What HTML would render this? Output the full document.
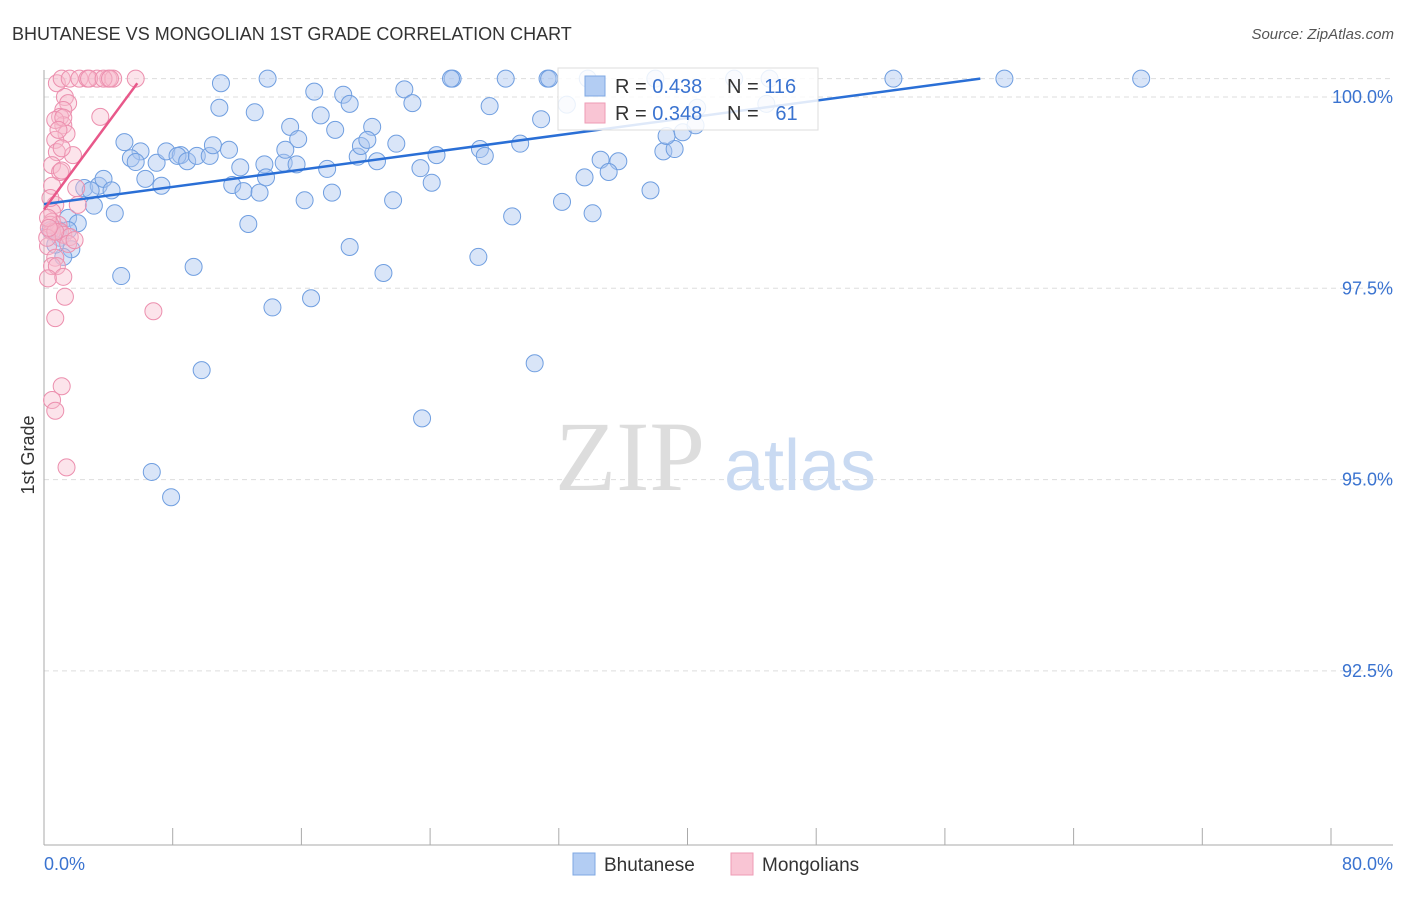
<!DOCTYPE html>
<html><head><meta charset="utf-8">
<style>
body{margin:0;background:#fff;font-family:"Liberation Sans",sans-serif;}
svg text{font-family:"Liberation Sans",sans-serif;}
</style></head>
<body>
<svg id="chart" width="1406" height="892">
<text x="12" y="40" font-size="18" fill="#333">BHUTANESE VS MONGOLIAN 1ST GRADE CORRELATION CHART</text>
<text x="1394" y="39" font-size="15" fill="#555" text-anchor="end" font-style="italic">Source: ZipAtlas.com</text>
<g id="grid"></g>
<text x="630" y="490" font-size="100" fill="#ddd" text-anchor="middle" font-family="Liberation Serif" style="font-family:'Liberation Serif',serif">ZIP</text>
<text x="800" y="490" font-size="72" fill="#c9daf2" text-anchor="middle">atlas</text>
<g id="pts"></g>
<g id="lines"></g>
<text transform="translate(34,455) rotate(-90)" font-size="18" fill="#333" text-anchor="middle">1st Grade</text>
<g>
<rect x="558" y="68" width="260" height="62" fill="#fff" fill-opacity="0.85" stroke="#ddd"/>
<rect x="585" y="76" width="20" height="20" fill="#b3cdf3" stroke="#7fa8e3"/>
<rect x="585" y="103" width="20" height="20" fill="#f9c5d4" stroke="#ee9bb5"/>
<text x="615" y="93" font-size="20" fill="#333">R = <tspan fill="#3a73d0">0.438</tspan></text>
<text x="727" y="93" font-size="20" fill="#333">N = <tspan fill="#3a73d0">116</tspan></text>
<text x="615" y="120" font-size="20" fill="#333">R = <tspan fill="#3a73d0">0.348</tspan></text>
<text x="727" y="120" font-size="20" fill="#333">N = <tspan fill="#3a73d0">&#160; 61</tspan></text>
</g>
<g>
<rect x="573" y="853" width="22" height="22" fill="#b3cdf3" stroke="#7fa8e3"/>
<text x="604" y="871" font-size="19" fill="#333">Bhutanese</text>
<rect x="731" y="853" width="22" height="22" fill="#f9c5d4" stroke="#ee9bb5"/>
<text x="762" y="871" font-size="19" fill="#333">Mongolians</text>
</g>
</svg>
<script>
const xTicks=[0,8,16,24,32,40,48,56,64,72,80];
const yTicks=[100,97.5,95,92.5];
const yTickLabels=["100.0%","97.5%","95.0%","92.5%"];
const xLabels=["0.0%","80.0%"];
const blueX=[11.0,13.9,25.4,28.7,31.3,33.8,38.0,42.9,45.1,52.8,59.7,68.2,25.3,31.4,10.9,13.1,16.8,18.6,19.0,22.4,22.9,27.7,30.9,32.5,17.2,15.3,18.1,20.4,21.9,15.8,5.0,6.0,5.4,5.7,7.0,7.6,8.5,8.3,8.9,9.5,10.3,10.5,11.5,12.2,13.7,14.9,15.0,15.7,17.6,19.5,19.7,20.1,20.7,24.4,23.4,27.1,27.4,29.6,34.6,35.7,38.5,39.2,38.7,39.7,40.5,40.6,44.9,33.6,35.1,6.3,7.3,11.7,12.4,13.4,13.8,16.2,17.9,21.7,24.1,37.7,32.2,34.1,29.1,12.7,1.5,2.1,3.1,4.4,2.5,3.4,3.7,4.2,2.9,0.9,1.0,1.5,1.7,1.2,4.8,9.3,19.0,21.1,27.0,14.2,16.6,9.8,30.5,23.5,6.7,7.9,0.4,0.7];
const blueY=[100.18,100.24,100.24,100.24,100.24,100.24,100.24,100.24,100.24,100.24,100.24,100.24,100.24,100.24,99.86,99.80,100.07,100.03,99.91,100.10,99.92,99.88,99.71,99.90,99.76,99.61,99.57,99.61,99.39,99.45,99.41,99.29,99.20,99.15,99.14,99.29,99.24,99.23,99.16,99.23,99.23,99.37,99.31,99.08,99.12,99.14,99.31,99.12,99.06,99.22,99.36,99.44,99.16,99.24,99.07,99.32,99.23,99.39,99.18,99.16,99.29,99.32,99.49,99.54,99.63,99.86,99.91,98.95,99.02,98.93,98.84,98.85,98.77,98.75,98.95,98.65,98.75,98.65,98.88,98.78,98.63,98.48,98.44,98.34,98.42,98.35,98.58,98.48,98.81,98.84,98.93,98.78,98.78,98.26,98.16,98.26,98.01,97.91,97.66,97.78,98.04,97.70,97.91,97.25,97.37,96.43,96.52,95.80,95.10,94.77,98.26,98.07];
const pinkX=[0.8,1.1,1.6,2.2,2.7,3.3,4.0,4.3,5.7,1.3,1.5,1.2,1.0,3.5,1.2,1.4,0.7,0.8,1.8,1.1,0.5,1.0,0.5,2.0,2.1,0.7,0.5,0.5,0.9,1.0,0.5,1.2,1.6,1.5,1.9,0.25,0.7,0.5,0.8,0.25,1.2,1.3,0.7,6.8,1.1,0.5,0.7,1.4,0.4,0.2,0.7,2.8,3.7,4.1,0.7,1.2,0.25,0.9,1.1,0.4,0.3];
const pinkY=[100.18,100.24,100.24,100.24,100.24,100.24,100.24,100.24,100.24,100.0,99.92,99.83,99.74,99.74,99.63,99.52,99.44,99.28,99.24,99.33,99.11,99.02,98.84,98.81,98.59,98.59,98.50,98.37,98.33,98.24,98.24,98.20,98.17,98.08,98.13,98.05,97.90,97.79,97.79,97.63,97.65,97.39,97.11,97.20,96.22,96.04,95.90,95.16,98.33,98.16,98.24,100.24,100.24,100.24,99.70,99.73,98.42,99.57,99.04,98.68,98.29];
const blueTrend=[[0,98.6],[58.2,100.24]];
const pinkTrend=[[0,98.53],[5.8,100.18]];
const NS="http://www.w3.org/2000/svg";
const X=v=>44+v*16.0875;
const Y=v=>97+(100-v)*76.52;
function mk(tag,attrs,parent){const e=document.createElementNS(NS,tag);for(const k in attrs)e.setAttribute(k,attrs[k]);parent.appendChild(e);return e;}
const grid=document.getElementById('grid');
const gy=[100.24,...yTicks];
gy.forEach((v,i)=>{const l=mk('line',{x1:44,x2:1393,y1:Y(v),y2:Y(v),stroke:'#ddd','stroke-dasharray':'5,4'},grid);

});
yTicks.forEach((v,i)=>{const t=mk('text',{x:1393,y:Y(v)+6,'font-size':18,fill:'#3a73d0','text-anchor':'end'},grid);t.textContent=yTickLabels[i];

});
const ax=mk('line',{x1:44,x2:44,y1:70,y2:845,stroke:'#aaa'},grid);


const bx=mk('line',{x1:44,x2:1393,y1:845,y2:845,stroke:'#aaa'},grid);


xTicks.forEach(v=>{const l=mk('line',{x1:X(v),x2:X(v),y1:828,y2:845,stroke:'#aaa'},grid);

});
const xl0=mk('text',{x:44,y:870,'font-size':18,fill:'#3a73d0'},grid);xl0.textContent=xLabels[0];


const xl1=mk('text',{x:1393,y:870,'font-size':18,fill:'#3a73d0','text-anchor':'end'},grid);xl1.textContent=xLabels[1];


const pts=document.getElementById('pts');
blueX.forEach((v,i)=>{const c=mk('circle',{cx:X(v),cy:Y(blueY[i]),r:8.5,fill:'#aac6f0','fill-opacity':0.45,stroke:'#6f9ee0','stroke-width':1},pts);

});
pinkX.forEach((v,i)=>{const c=mk('circle',{cx:X(v),cy:Y(pinkY[i]),r:8.5,fill:'#f7bccd','fill-opacity':0.4,stroke:'#ec8fae','stroke-width':1},pts);

});
const lines=document.getElementById('lines');
const bl=mk('line',{x1:X(blueTrend[0][0]),y1:Y(blueTrend[0][1]),x2:X(blueTrend[1][0]),y2:Y(blueTrend[1][1]),stroke:'#2a6fd6','stroke-width':2.5},lines);


const pl=mk('line',{x1:X(pinkTrend[0][0]),y1:Y(pinkTrend[0][1]),x2:X(pinkTrend[1][0]),y2:Y(pinkTrend[1][1]),stroke:'#e8588a','stroke-width':2.5},lines);


</script>
</body></html>
